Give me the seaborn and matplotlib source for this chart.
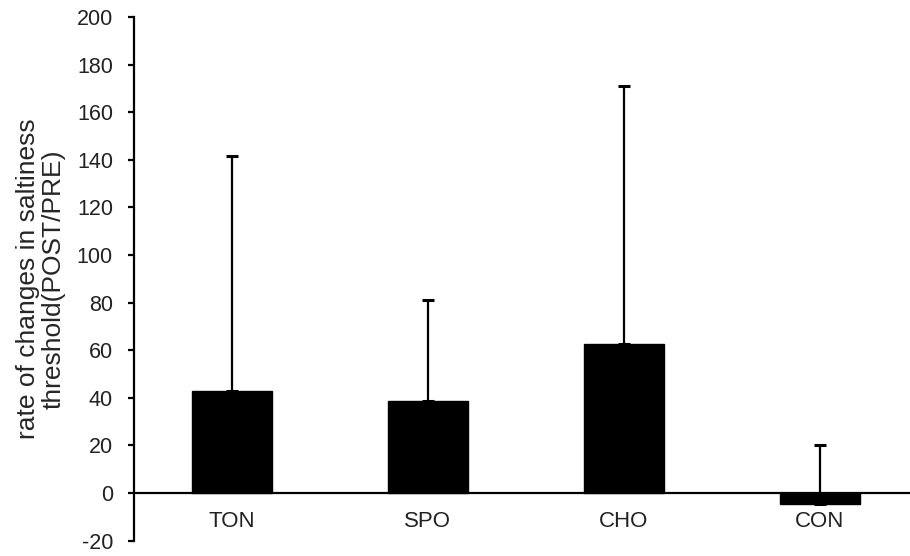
import numpy as np
import pandas as pd
import matplotlib
matplotlib.use("Agg")
import matplotlib.pyplot as plt
import seaborn as sns

# -------------------------
# Data
# -------------------------
groups = ["TON", "SPO", "CHO", "CON"]
means = [42.8, 38.6, 62.5, -4.6]
upper_err = [99.0, 42.7, 108.7, 24.6]

df = pd.DataFrame({"group": groups, "rate": means})

# -------------------------
# Style
# -------------------------
sns.set_style("white")
plt.rcParams["font.family"] = ["Liberation Sans", "DejaVu Sans"]
plt.rcParams["axes.unicode_minus"] = False

fig = plt.figure(figsize=(9.1, 5.56), dpi=100)
ax = fig.add_axes([0.147, 0.0277, 0.853, 0.9417])

sns.barplot(data=df, x="group", y="rate", color="black", width=0.41,
            saturation=1, edgecolor="black", ax=ax)

# upper error bars only
x = np.arange(len(groups))
ax.errorbar(x, means, yerr=[np.zeros(len(groups)), upper_err], fmt="none",
            ecolor="black", elinewidth=1.6, capsize=4, capthick=2.2)

# -------------------------
# Axes
# -------------------------
ax.set_ylim(-20, 200)
ax.set_yticks(np.arange(-20, 201, 20))
ax.set_xlim(-0.5, 3.46)

ax.spines["top"].set_visible(False)
ax.spines["right"].set_visible(False)
ax.spines["bottom"].set_position(("data", 0))
for s in ["left", "bottom"]:
    ax.spines[s].set_linewidth(1.6)
    ax.spines[s].set_color("black")

ax.tick_params(axis="y", direction="out", length=4.5, width=1.6, color="black",
               labelsize=15.5, pad=10.5, left=True, labelcolor="#222222")
ax.tick_params(axis="x", length=0, labelsize=16, pad=13, labelcolor="#222222")

ax.set_xlabel("")
ax.set_ylabel("rate of changes in saltiness\nthreshold(POST/PRE)", fontsize=19,
              linespacing=1.1, labelpad=8)

fig.savefig("out.png", dpi=100)
